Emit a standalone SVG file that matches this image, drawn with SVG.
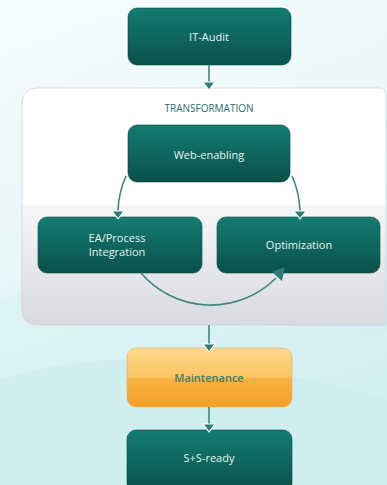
<svg xmlns="http://www.w3.org/2000/svg" width="387" height="485" viewBox="0 0 387 485">
  <style>
    .box { stroke: #0a4a44; stroke-width: 0.6; }
    .lbl { font-family: "Open Sans", "Liberation Sans", sans-serif; font-size: 11px; fill: #e6f3f1; text-anchor: middle; }
    .wire { fill: none; stroke: #3f8580; stroke-width: 1.6; }
    .head { fill: #2f7c75; stroke: #ffffff; stroke-width: 1.2; stroke-linejoin: round; }
  </style>
  <defs>
    <linearGradient id="bg" x1="0" y1="0" x2="0.3" y2="1">
      <stop offset="0" stop-color="#f6fcfc"/>
      <stop offset="0.5" stop-color="#e9f7f8"/>
      <stop offset="1" stop-color="#cdeef0"/>
    </linearGradient>
    <linearGradient id="teal" x1="0" y1="0" x2="0" y2="1">
      <stop offset="0" stop-color="#137c72"/>
      <stop offset="1" stop-color="#0a514b"/>
    </linearGradient>
    <linearGradient id="orange" x1="0" y1="0" x2="0" y2="1">
      <stop offset="0" stop-color="#fdd98f"/>
      <stop offset="0.5" stop-color="#fbc460"/>
      <stop offset="0.52" stop-color="#f8b243"/>
      <stop offset="1" stop-color="#f4a024"/>
    </linearGradient>
    <linearGradient id="band" x1="0" y1="0" x2="0" y2="1">
      <stop offset="0" stop-color="#f7f7f8"/>
      <stop offset="1" stop-color="#d9dadf"/>
    </linearGradient>
    <clipPath id="panelClip">
      <path d="M22 104 Q22 88 38 88 L378 88 Q386 88 386 96 L386 325 L38 325 Q22 325 22 310 Z"/>
    </clipPath>
  </defs>

  <!-- background -->
  <rect width="387" height="485" fill="url(#bg)"/>
  <path d="M0 300 Q120 250 250 300 T387 330 L387 485 L0 485 Z" fill="#d7f1f2" opacity="0.6"/>
  <path d="M0 380 Q150 330 387 400 L387 485 L0 485 Z" fill="#c9ecee" opacity="0.5"/>

  <!-- transformation panel -->
  <g id="transformation">
    <g clip-path="url(#panelClip)">
      <rect x="22" y="88" width="364" height="237" fill="#ffffff"/>
      <rect x="22" y="205" width="364" height="120" fill="url(#band)"/>
    </g>
    <path d="M22 104 Q22 88 38 88 L378 88 Q386 88 386 96 L386 325 L38 325 Q22 325 22 310 Z" fill="none" stroke="#cfd3d4" stroke-width="0.8"/>
    <text x="209" y="112" style="font-family: 'Open Sans', 'Liberation Sans', sans-serif; font-size: 10px; fill: #1f6f68; text-anchor: middle;">TRANSFORMATION</text>
  </g>

  <g id="it-audit">
    <rect class="box" x="128" y="8" width="163" height="57" rx="9" fill="url(#teal)"/>
    <text class="lbl" x="209" y="41">IT-Audit</text>
  </g>

  <g id="web-enabling">
    <rect class="box" x="128" y="125" width="162" height="57" rx="9" fill="url(#teal)"/>
    <text class="lbl" x="209" y="159">Web-enabling</text>
  </g>

  <g id="ea-process">
    <rect class="box" x="38" y="217" width="164" height="56" rx="9" fill="url(#teal)"/>
    <text class="lbl" x="117" y="242">EA/Process</text>
    <text class="lbl" x="117" y="256">Integration</text>
  </g>

  <g id="optimization">
    <rect class="box" x="217" y="217" width="163" height="56" rx="9" fill="url(#teal)"/>
    <text class="lbl" x="299" y="249">Optimization</text>
  </g>

  <g id="maintenance">
    <rect x="127" y="348" width="165" height="59" rx="9" fill="url(#orange)" stroke="#e4b060" stroke-width="0.6"/>
    <text x="209" y="382" style="font-family: 'Open Sans', 'Liberation Sans', sans-serif; font-size: 11px; font-weight: 600; fill: #3e7e6c; text-anchor: middle;">Maintenance</text>
  </g>

  <g id="ss-ready">
    <rect class="box" x="127" y="430" width="165" height="62" rx="9" fill="url(#teal)"/>
    <text class="lbl" x="209" y="462">S+S-ready</text>
  </g>

  <!-- connectors, drawn last so the arrowheads sit over the box edges -->
  <g id="connectors">
    <line class="wire" x1="209" y1="65" x2="209" y2="84"/>
    <path class="wire" d="M126 176 A92 92 0 0 0 118 212"/>
    <path class="wire" d="M292 176 A92 92 0 0 1 300 212"/>
    <path class="wire" d="M141 273 A92 92 0 0 0 276 278" stroke-width="1.3"/>
    <line class="wire" x1="209" y1="325" x2="209" y2="346"/>
    <line class="wire" x1="209" y1="407" x2="209" y2="425"/>
    <path class="head" d="M203 82 L215 82 L209 90 Z"/>
    <path class="head" d="M112 211 L124 211 L118 219 Z"/>
    <path class="head" d="M294 211 L306 211 L300 219 Z"/>
    <path d="M285 267 L282 281 L272 272 Z" fill="#2f7c75"/>
    <path class="head" d="M203 344 L215 344 L209 352 Z"/>
    <path class="head" d="M203 424 L215 424 L209 432 Z"/>
  </g>
</svg>
